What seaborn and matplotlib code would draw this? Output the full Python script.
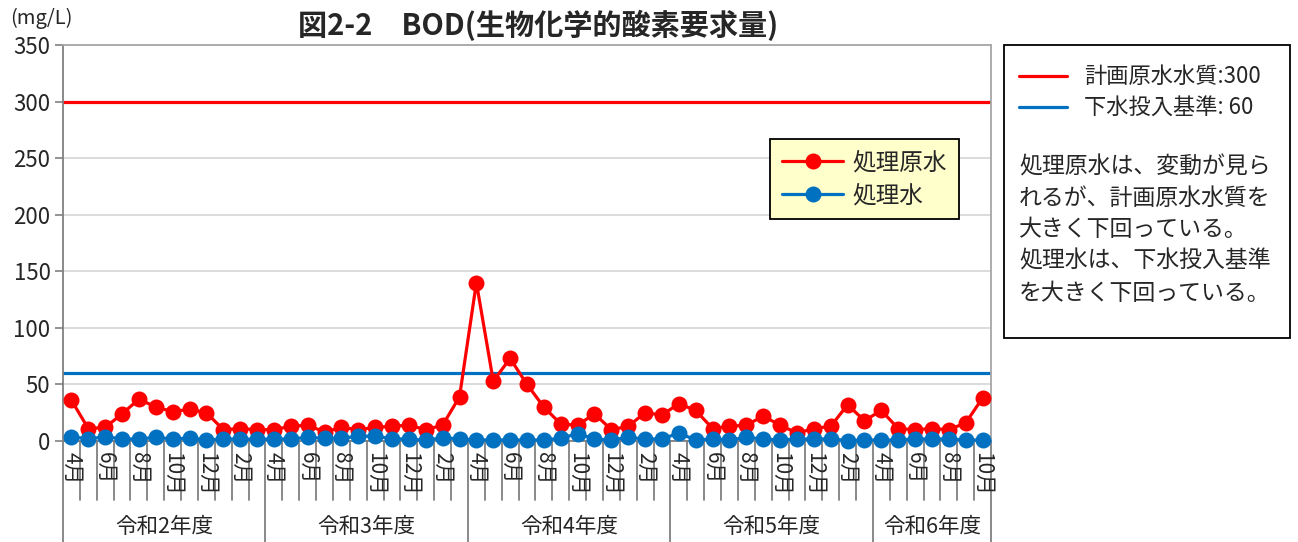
import numpy as np
import pandas as pd
import matplotlib
matplotlib.use('Agg')
import matplotlib.pyplot as plt
import seaborn as sns
from matplotlib.lines import Line2D
from matplotlib.patches import Rectangle

# ---- data ----
years = ['令和2年度', '令和3年度', '令和4年度', '令和5年度', '令和6年度']
months_per_year = [12, 12, 12, 12, 7]
month_order = [4, 5, 6, 7, 8, 9, 10, 11, 12, 1, 2, 3]
labeled_months = [4, 6, 8, 10, 12, 2]

raw_water = [36, 11, 12, 24, 37, 30, 26, 28, 25, 10, 11, 10,
             10, 13, 14, 8, 12, 10, 12, 13, 14, 10, 14, 39,
             140, 53, 73, 50, 30, 15, 14, 24, 10, 13, 25, 23,
             33, 27, 11, 13, 14, 22, 14, 7, 11, 13, 32, 18,
             27, 11, 10, 11, 10, 16, 38]
treated_water = [3.8, 1.8, 3.8, 1.8, 1.8, 3.2, 1.8, 2.6, 0.9, 1.8, 1.8, 1.5,
                 1.8, 1.8, 3.2, 2.4, 2.6, 4.0, 4.4, 1.8, 1.8, 0.5, 3.0, 1.8,
                 0.9, 0.9, 0.9, 0.9, 0.9, 2.4, 6.5, 1.8, 0.9, 3.2, 1.8, 1.8,
                 7.0, 0.9, 1.8, 0.9, 3.2, 1.8, 0.9, 1.8, 1.8, 1.8, 0.4, 0.9,
                 0.9, 0.9, 1.8, 1.8, 1.8, 0.9, 0.9]
plan_raw_quality = 300
sewer_standard = 60

series_names = ['処理原水', '処理水']
colors = {'処理原水': '#FF0000', '処理水': '#0070C0'}

# ---- setup ----
sns.set_theme(style='white')
plt.rcParams['font.family'] = ['Noto Sans CJK JP', 'DejaVu Sans']

months = [m for n in months_per_year for m in month_order[:n]]
n = len(months)
idx = np.arange(n)
df = pd.DataFrame({
    'idx': np.concatenate([idx, idx]),
    'val': raw_water + treated_water,
    'series': [series_names[0]] * n + [series_names[1]] * n,
})

W, H = 1298, 542
fig = plt.figure(figsize=(W / 100, H / 100), dpi=100)
ax = fig.add_axes([63 / W, 101 / H, 928 / W, 396 / H])

ax.axhline(plan_raw_quality, color=colors['処理原水'], lw=2.3, zorder=2)
ax.axhline(sewer_standard, color=colors['処理水'], lw=2.3, zorder=2)

sns.lineplot(data=df, x='idx', y='val', hue='series', hue_order=series_names,
             palette=colors, marker='o', markersize=11.5, markeredgewidth=0,
             linewidth=2.3, ax=ax, legend=False)
for k, ln in enumerate(ax.lines[2:]):
    ln.set_clip_on(False)
    ln.set_zorder(4 + k)

ax.set_xlim(-0.5, n - 0.5)
ax.set_ylim(0, 350)
ax.set_yticks(np.arange(0, 351, 50))
ax.tick_params(axis='y', labelsize=16, length=6, width=1.2, color='#808080',
               direction='out', left=True, pad=3)
ax.set_xticks([])
ax.set_xlabel('')
ax.set_ylabel('')
ax.yaxis.grid(True, color='#D9D9D9', lw=1.3)
ax.set_axisbelow(True)
for s in ['left', 'bottom']:
    ax.spines[s].set_color('#808080')
    ax.spines[s].set_linewidth(1.3)
for s in ['top', 'right']:
    ax.spines[s].set_color('#A6A6A6')
    ax.spines[s].set_linewidth(1.3)

# category axis (multi-level)
xt = ax.get_xaxis_transform()
year_bounds = np.cumsum([0] + months_per_year) - 0.5
for b in np.arange(-0.5, n, 1.0):
    bottom = -0.255 if np.any(np.isclose(b, year_bounds)) else -0.149
    ax.plot([b, b], [0, bottom], transform=xt, clip_on=False,
            color='#808080', lw=1.3)
for i, m in enumerate(months):
    if m in labeled_months:
        ax.text(i, -0.028, f'{m}月', rotation=270, ha='center', va='top',
                transform=xt, fontsize=15)
for k, y in enumerate(years):
    c = (year_bounds[k] + year_bounds[k + 1]) / 2
    ax.text(c, -0.217, y, ha='center', va='center', transform=xt, fontsize=15.5)

# legend
handles = [Line2D([], [], color=colors[s], lw=2.3, marker='o', markersize=11.5,
                  markeredgewidth=0) for s in series_names]
leg = ax.legend(handles, series_names, loc='upper left', bbox_to_anchor=(0.762, 0.762),
                borderaxespad=0, fontsize=17, frameon=True, fancybox=False,
                facecolor='#FFFFCC', edgecolor='black', framealpha=1,
                handlelength=2.6, handletextpad=0.4, labelspacing=0.45,
                borderpad=0.5)
leg.get_frame().set_linewidth(1.3)
leg.set_zorder(10)

# titles
fig.text(10 / W, 1 - 18 / H, '(mg/L)', fontsize=14.5, ha='left', va='center')
fig.text(538 / W, 1 - 25 / H, '図2-2　BOD(生物化学的酸素要求量)', fontsize=21,
         fontweight='bold', ha='center', va='center')

# right annotation box
fig.patches.append(Rectangle((1004 / W, 1 - 338 / H), 286 / W, 293 / H,
                             transform=fig.transFigure, fill=False,
                             edgecolor='black', lw=1.3))
for yy, col, txt in [(76, colors['処理原水'], '計画原水水質:300'),
                     (107, colors['処理水'], '下水投入基準: 60')]:
    fig.lines.append(Line2D([1019 / W, 1067 / W], [1 - yy / H, 1 - yy / H],
                            transform=fig.transFigure, color=col, lw=2.3))
    fig.text(1084 / W, 1 - yy / H, txt, fontsize=16, ha='left', va='center')
para = ['処理原水は、変動が見ら', 'れるが、計画原水水質を', '大きく下回っている。',
        '処理水は、下水投入基準', 'を大きく下回っている。']
for k, line in enumerate(para):
    fig.text(1019 / W, 1 - (167 + 31.5 * k) / H, line, fontsize=16.5,
             ha='left', va='center')

fig.savefig('out.png', dpi=100)
